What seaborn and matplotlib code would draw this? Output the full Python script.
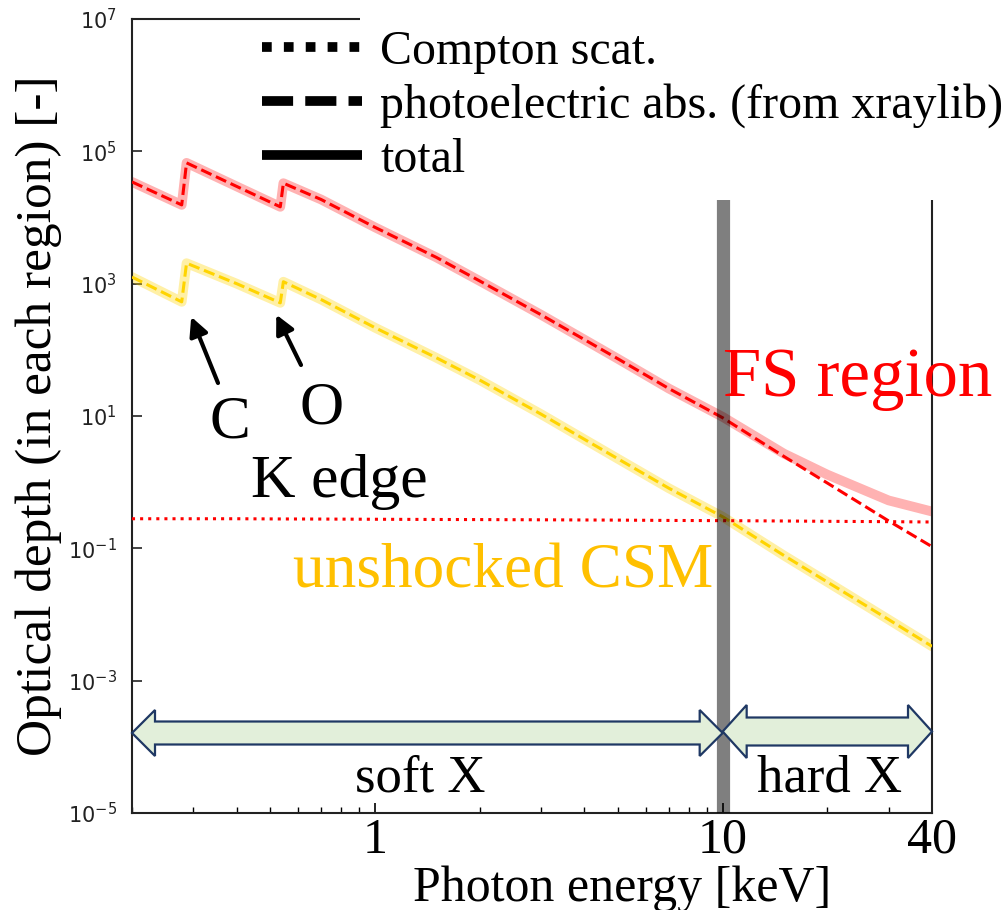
import numpy as np
import pandas as pd
import matplotlib
matplotlib.use("Agg")
import matplotlib.pyplot as plt
import seaborn as sns
from matplotlib.lines import Line2D
from matplotlib.patches import Polygon, Rectangle
from matplotlib.ticker import FixedLocator, NullLocator, NullFormatter, LogFormatterSciNotation

# Photon energy grid [keV] (C and O K edges sampled on both sides)
energy_keV = [0.2, 0.278, 0.287, 0.4, 0.534, 0.545, 0.7, 1.0, 1.5, 2.0,
              3.0, 5.0, 7.0, 10.0, 15.0, 20.0, 30.0, 40.0]

# Forward-shock region optical depths
fs_photo = [3.45e4, 1.55e4, 6.7e4, 2.95e4, 1.45e4, 3.3e4, 1.87e4, 7.1e3, 2.5e3, 1.1e3,
            3.4e2, 73, 26, 9.4, 2.45, 0.97, 0.26, 0.106]
fs_compton = [0.28, 0.28, 0.28, 0.28, 0.278, 0.278, 0.277, 0.275, 0.273, 0.272,
              0.27, 0.267, 0.264, 0.262, 0.259, 0.256, 0.253, 0.25]
fs_total = [3.45e4, 1.55e4, 6.7e4, 2.95e4, 1.45e4, 3.3e4, 1.87e4, 7.1e3, 2.5e3, 1.1e3,
            3.4e2, 73, 26, 9.7, 2.7, 1.3, 0.53, 0.36]

# Unshocked CSM optical depths
csm_photo = [1.26e3, 531, 2.04e3, 1.0e3, 513, 1.07e3, 575, 216, 76, 35,
             10.7, 2.25, 0.81, 0.30, 0.078, 0.031, 0.0084, 0.0033]
csm_total = [1.26e3, 531, 2.04e3, 1.0e3, 513, 1.07e3, 575, 216, 76, 35,
             10.7, 2.25, 0.81, 0.30, 0.078, 0.031, 0.0084, 0.0033]

x_ticks = [1, 10, 40]
x_ticklabels = ["1", "10", "40"]
y_ticks = [1e-5, 1e-3, 1e-1, 1e1, 1e3, 1e5, 1e7]
legend_labels = ["Compton scat.", "photoelectric abs. (from xraylib)", "total"]

df = pd.DataFrame({
    "energy": energy_keV,
    "fs_photo": fs_photo,
    "fs_compton": fs_compton,
    "fs_total": fs_total,
    "csm_photo": csm_photo,
    "csm_total": csm_total,
})

sns.set_style("ticks")
plt.rcParams["font.family"] = ["Liberation Serif", "DejaVu Serif"]
plt.rcParams["mathtext.fontset"] = "dejavusans"
plt.rcParams["text.color"] = "black"
plt.rcParams["axes.labelcolor"] = "black"
plt.rcParams["xtick.color"] = "black"
plt.rcParams["ytick.color"] = "#222222"

W, H = 1008, 910
fig = plt.figure(figsize=(W / 100, H / 100), dpi=100)
ax = fig.add_axes([132 / W, 1 - 813 / H, 800 / W, 794 / H])


def fx(px):
    return px / W


def fy(py):
    return 1 - py / H


RED = "#FF0000"
GOLD = "#FFD400"

# total (wide translucent band)
sns.lineplot(data=df, x="energy", y="fs_total", ax=ax, color=RED, alpha=0.3,
             lw=7, estimator=None, sort=False, zorder=2)
sns.lineplot(data=df, x="energy", y="csm_total", ax=ax, color=GOLD, alpha=0.35,
             lw=7, estimator=None, sort=False, zorder=2)
# photoelectric absorption
sns.lineplot(data=df, x="energy", y="fs_photo", ax=ax, color=RED, lw=2.2,
             linestyle="--", estimator=None, sort=False, zorder=3)
sns.lineplot(data=df, x="energy", y="csm_photo", ax=ax, color=GOLD, lw=2.2,
             linestyle="--", estimator=None, sort=False, zorder=3)
# Compton scattering
sns.lineplot(data=df, x="energy", y="fs_compton", ax=ax, color=RED, lw=2.2,
             linestyle=":", estimator=None, sort=False, zorder=3)

ax.set_xscale("log")
ax.set_yscale("log")
ax.set_xlim(0.2, 40)
ax.set_ylim(1e-5, 1e7)

# soft / hard boundary
ax.axvline(10, color="black", alpha=0.5, lw=9.5, zorder=4)

# ticks
ax.xaxis.set_major_locator(FixedLocator(x_ticks))
ax.set_xticklabels(x_ticklabels)
minor_x = [v for v in np.concatenate([np.arange(0.2, 1.0, 0.1), np.arange(2, 10, 1), [20, 30]])]
ax.xaxis.set_minor_locator(FixedLocator(minor_x))
ax.xaxis.set_minor_formatter(NullFormatter())
ax.yaxis.set_major_locator(FixedLocator(y_ticks))
ax.yaxis.set_major_formatter(LogFormatterSciNotation())
ax.yaxis.set_minor_locator(NullLocator())

ax.tick_params(axis="x", which="major", direction="in", length=7, width=1.2,
               labelsize=36, pad=3, colors="black")
ax.tick_params(axis="x", which="minor", direction="in", length=4, width=1.0)
ax.tick_params(axis="y", which="major", direction="in", length=7, width=1.2,
               labelsize=15, pad=11, labelcolor="#222222")
for lab in ax.get_yticklabels():
    lab.set_fontfamily("DejaVu Sans")

for side in ["left", "right", "top", "bottom"]:
    ax.spines[side].set_visible(True)
    ax.spines[side].set_linewidth(1.5)
    ax.spines[side].set_color("#222222")

ax.set_xlabel("Photon energy [keV]", fontsize=36)
ax.set_ylabel("Optical depth (in each region) [-]", fontsize=37)
ax.xaxis.set_label_coords((622 - 132) / 800, -0.066)
ax.yaxis.set_label_coords(-0.088, 0.5)

# soft X / hard X band arrows (axes-fraction geometry)
def to_axfrac(e):
    return ax.transAxes.inverted().transform(ax.transData.transform((e, 1)))[0]


def double_arrow(xa, xb, yc, hl, hh, sh):
    pts = [(xa, yc), (xa + hl, yc + hh), (xa + hl, yc + sh), (xb - hl, yc + sh),
           (xb - hl, yc + hh), (xb, yc), (xb - hl, yc - hh), (xb - hl, yc - sh),
           (xa + hl, yc - sh), (xa + hl, yc - hh)]
    poly = Polygon(pts, closed=True, transform=ax.transAxes, facecolor="#E2EFDA",
                   edgecolor="#1F3864", lw=1.6, clip_on=False, zorder=5)
    ax.add_patch(poly)


x10 = to_axfrac(10)
double_arrow(0.0, x10, (813 - 733) / 794, 23 / 800, 23 / 794, 11.5 / 794)
double_arrow(x10, 1.0, (813 - 731.5) / 794, 24 / 800, 26.5 / 794, 14 / 794)

fig.text(fx(355), fy(792), "soft X", fontsize=38, ha="left", va="baseline")
fig.text(fx(757), fy(792), "hard X", fontsize=38, ha="left", va="baseline")

# region labels
fig.text(fx(723), fy(396), "FS region", fontsize=49.5, color=RED, ha="left", va="baseline")
fig.text(fx(293), fy(588), "unshocked CSM", fontsize=45.5, color="#FFC000", ha="left", va="baseline")

# K-edge labels and arrows
fig.text(fx(210), fy(437), "C", fontsize=44, ha="left", va="baseline")
fig.text(fx(300), fy(424), "O", fontsize=44, ha="left", va="baseline")
fig.text(fx(251), fy(497), "K edge", fontsize=44.5, ha="left", va="baseline")
arrow_kw = dict(arrowstyle="-|>", lw=3, color="black", mutation_scale=28, shrinkA=0, shrinkB=0)
ax.annotate("", xy=(0.296, 316), xycoords="data", xytext=(218, H - 383),
            textcoords="figure pixels", arrowprops=arrow_kw)
ax.annotate("", xy=(0.52, 340), xycoords="data", xytext=(301, H - 365),
            textcoords="figure pixels", arrowprops=arrow_kw)

# white panel behind the legend text
fig.add_artist(Rectangle((fx(360), fy(200)), 1 - fx(360), 1 - fy(200),
                         transform=fig.transFigure, facecolor="white",
                         edgecolor="none", zorder=3))

handles = [
    Line2D([], [], color="black", lw=7, linestyle=(0, (1, 1.25)), dash_capstyle="butt"),
    Line2D([], [], color="black", lw=7, linestyle=(0, (3.2, 1.25)), dash_capstyle="butt"),
    Line2D([], [], color="black", lw=7, linestyle="-", solid_capstyle="butt"),
]
leg = fig.legend(handles, legend_labels, loc="upper left",
                 bbox_to_anchor=(fx(262), fy(30)), frameon=False, borderpad=0,
                 borderaxespad=0, handlelength=72 / 34.5, handletextpad=13 / 34.5,
                 labelspacing=0.2, prop={"family": "Liberation Serif", "size": 34.5})
leg.set_zorder(6)

fig.savefig("out.png", dpi=100)
